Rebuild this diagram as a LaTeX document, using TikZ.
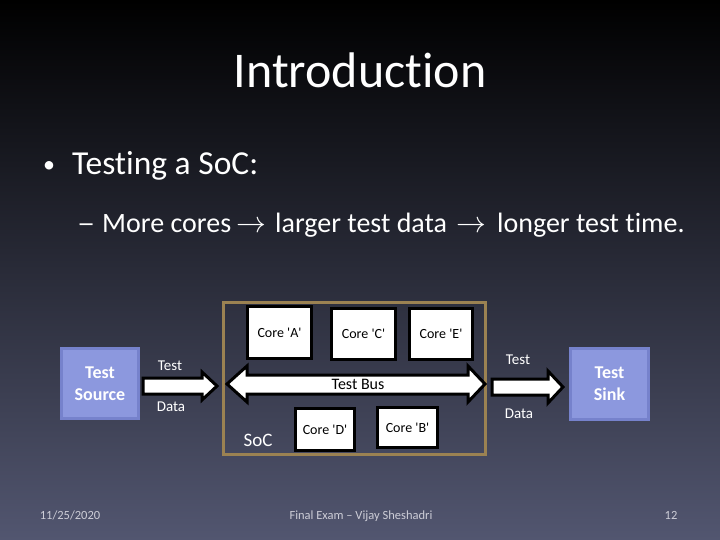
\documentclass[tikz,border=0pt]{standalone}
\usepackage{fontspec}
\setmainfont[RawFeature=-liga]{Carlito}
\definecolor{bgbot}{RGB}{82,86,112}
\definecolor{bgmid}{RGB}{26,27,38}
\definecolor{boxfill}{RGB}{140,152,222}
\definecolor{boxline}{RGB}{118,130,204}
\definecolor{gold}{RGB}{155,130,82}
\definecolor{foot}{RGB}{205,205,215}
\newcommand{\sq}{\textquotesingle}
\newcommand{\bigarr}{\scalebox{1.2}{$\rightarrow$}}
\tikzset{
  core/.style={draw=black, line width=3.5pt, fill=white, inner sep=0pt,
    font=\fontsize{14}{16}\selectfont, text=black},
  endbox/.style={draw=boxline, line width=3pt, fill=boxfill, inner sep=0pt,
    text=white, align=center, font=\bfseries\fontsize{18}{22}\selectfont},
  socbox/.style={draw=gold, line width=3pt, inner sep=0pt},
  fat/.style={draw=black, line width=3pt, fill=white, line join=miter},
  lbl/.style={text=white, font=\fontsize{15}{17}\selectfont, inner sep=0pt},
  sub/.style={text=white, font=\fontsize{28}{32}\selectfont, inner sep=0pt, anchor=base west},
  foottxt/.style={text=foot, font=\fontsize{12.5}{14}\selectfont, inner sep=0pt, anchor=base}
}
\begin{document}
\begin{tikzpicture}[x=1pt,y=-1pt]
\useasboundingbox (0,0) rectangle (720,540);
\shade[top color=black, middle color=bgmid, bottom color=bgbot] (0,0) rectangle (720,540);
% title and bullets
\node[text=white, font=\fontsize{50}{60}\selectfont] (title) at (360,70) {Introduction};
\node[text=white, font=\fontsize{24}{28}\selectfont] (bul) at (49,167) {\textbullet};
\node[text=white, anchor=west, font=\fontsize{33.5}{38}\selectfont, inner sep=0pt] (l1) at (72,166) {Testing a SoC:};
\node[sub] (dash) at (77,233) {\scalebox{1.3}[1]{–}};
\node[sub] (w1) at (102,233) {More cores};
\node[sub, anchor=base] (a1) at (251,233) {\bigarr};
\node[sub] (w2) at (275,233) {larger test data};
\node[sub, anchor=base] (a2) at (471,233) {\bigarr};
\node[sub] (w3) at (497,233) {longer test time.};
% SoC frame
\node[socbox, minimum width=262pt, minimum height=152pt] (soc) at (354.5,378.5) {};
% cores
\node[core, minimum width=64pt, minimum height=52pt] (ca) at (279.5,332.5) {Core \sq A\sq};
\node[core, minimum width=64pt, minimum height=51pt] (cc) at (363.5,334) {Core \sq C\sq};
\node[core, minimum width=63pt, minimum height=51pt] (ce) at (441,334) {Core \sq E\sq};
\node[core, minimum width=59pt, minimum height=42pt] (cd) at (325,429.5) {Core \sq D\sq};
\node[core, minimum width=60pt, minimum height=40pt] (cb) at (407.5,427.5) {Core \sq B\sq};
% source / sink
\node[endbox, minimum width=77pt, minimum height=70pt] (src) at (100,383.5) {Test\\Source};
\node[endbox, minimum width=78pt, minimum height=71pt] (snk) at (609.5,384) {Test\\Sink};
% arrows
\draw[fat] (143,378) -- (202,378) -- (202,372) -- (217,386) -- (202,400) -- (202,394) -- (143,394) -- cycle;
\draw[fat] (227,384) -- (247,366) -- (247,375) -- (468,375) -- (468,366) -- (485,384)
  -- (468,402) -- (468,394) -- (247,394) -- (247,402) -- cycle;
\draw[fat] (492,379) -- (548,379) -- (548,371) -- (563,387) -- (548,403) -- (548,395) -- (492,395) -- cycle;
% labels
\node[text=black, font=\fontsize{16}{18}\selectfont, inner sep=0pt] (bus) at (358,384) {Test Bus};
\node[lbl] (t1) at (170,366) {Test};
\node[lbl] (d1) at (171,407) {Data};
\node[lbl] (t2) at (518,360) {Test};
\node[lbl] (d2) at (519,414) {Data};
\node[text=white, font=\fontsize{19}{22}\selectfont, inner sep=0pt] (soclbl) at (258,440) {SoC};
% footer
\node[foottxt] (date) at (70,519) {11/25/2020};
\node[foottxt] (ftitle) at (361,519) {Final Exam – Vijay Sheshadri};
\node[foottxt] (page) at (671,519) {12};
\end{tikzpicture}
\end{document}
